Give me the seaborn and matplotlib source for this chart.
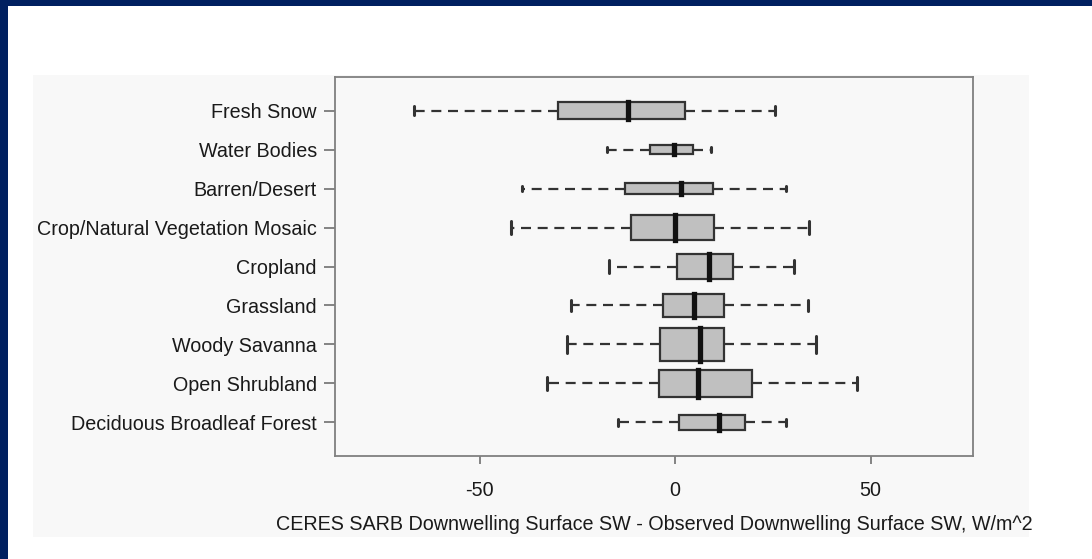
import numpy as np
import pandas as pd
import seaborn as sns
import matplotlib
matplotlib.use("Agg")
import matplotlib.pyplot as plt
from matplotlib.patches import Rectangle

# Surface-type categories (top to bottom)
categories = [
    "Fresh Snow",
    "Water Bodies",
    "Barren/Desert",
    "Crop/Natural Vegetation Mosaic",
    "Cropland",
    "Grassland",
    "Woody Savanna",
    "Open Shrubland",
    "Deciduous Broadleaf Forest",
]

# Five-number summaries of the bias (W/m^2)
whisker_low = [-66.7, -17.5, -39.1, -42.1, -16.8, -26.6, -27.6, -32.7, -14.5]
quartile_1 = [-30.0, -6.3, -12.7, -11.3, 0.6, -3.2, -3.8, -4.2, 1.1]
medians = [-12.0, -0.3, 1.5, 0.0, 8.6, 4.9, 6.4, 5.8, 11.3]
quartile_3 = [2.6, 4.5, 9.8, 10.0, 14.9, 12.4, 12.6, 19.7, 17.9]
whisker_high = [25.6, 9.1, 28.3, 34.3, 30.5, 33.9, 36.1, 46.5, 28.4]

# Relative box heights (proportional to sample size)
box_widths = [0.43, 0.24, 0.30, 0.66, 0.64, 0.58, 0.84, 0.67, 0.38]

x_ticks = [-50, 0, 50]
x_label = "CERES SARB Downwelling Surface SW - Observed Downwelling Surface SW, W/m^2"

rows = []
for cat, lo, a, m, b, hi in zip(categories, whisker_low, quartile_1, medians,
                                quartile_3, whisker_high):
    for v in (lo, a, m, b, hi):
        rows.append({"surface": cat, "bias": v})
df = pd.DataFrame(rows)

sns.set_style("white")
plt.rcParams["font.family"] = ["Liberation Sans", "DejaVu Sans"]

W, H = 1092, 559
fig = plt.figure(figsize=(W / 100, H / 100), dpi=100, facecolor="white")

# Light panel behind the chart and the dark slide frame
fig.patches.append(Rectangle((33 / W, 1 - 537 / H), 996 / W, 462 / H,
                             transform=fig.transFigure, facecolor="#f8f8f8",
                             edgecolor="none", zorder=-5))
fig.patches.append(Rectangle((0, 1 - 6 / H), 1, 6 / H, transform=fig.transFigure,
                             facecolor="#002060", edgecolor="none", zorder=5))
fig.patches.append(Rectangle((0, 0), 8 / W, 1, transform=fig.transFigure,
                             facecolor="#002060", edgecolor="none", zorder=5))

ax = fig.add_axes([335 / W, 1 - 456 / H, 638 / W, 379 / H])
ax.set_facecolor("none")

edge = "#333333"
for cat, w in zip(categories, box_widths):
    sns.boxplot(
        data=df[df["surface"] == cat], x="bias", y="surface", order=categories,
        orient="h", whis=(0, 100), width=w, color="#c0c0c0", saturation=1,
        linecolor=edge, linewidth=1.6, showfliers=False, ax=ax,
        capwidths=0.5 * w,
        whiskerprops={"linestyle": (0, (4.5, 3.0)), "linewidth": 1.6},
        capprops={"linewidth": 2.2},
        medianprops={"color": "#111111", "linewidth": 3.8,
                     "solid_capstyle": "projecting"},
    )

ax.set_xlim(-87.0, 76.2)
ax.set_ylim(8.86, -0.86)
ax.set_xticks(x_ticks)
ax.set_xticklabels([str(t) for t in x_ticks])
ax.set_xlabel(x_label, fontsize=14.2, color="#1a1a1a", labelpad=11)
ax.set_ylabel("")

for s in ax.spines.values():
    s.set_visible(True)
    s.set_color("#808080")
    s.set_linewidth(1.3)

ax.tick_params(axis="y", which="major", left=True, length=8, width=1.2,
               color="#707070", pad=5, labelsize=14.2, labelcolor="#1a1a1a")
ax.tick_params(axis="x", which="major", bottom=True, length=6, width=1.2,
               color="#707070", pad=12, labelsize=14.2, labelcolor="#1a1a1a")

fig.savefig("out.png", dpi=100, facecolor="white")
